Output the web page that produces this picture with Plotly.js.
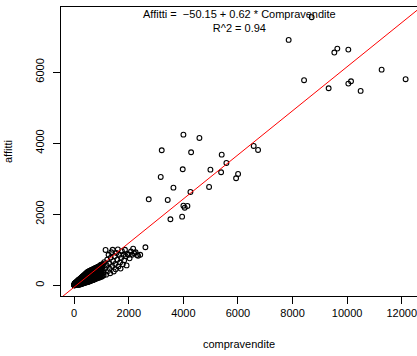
<!DOCTYPE html>
<html>
<head>
<meta charset="utf-8">
<script src="https://cdn.plot.ly/plotly-3.0.1.min.js"></script>
<style>
  html, body { margin: 0; padding: 0; background: #fff; }
  #plot { width: 417px; height: 356px; }
</style>
</head>
<body>
<div id="plot"></div>
<script>
// Sales (compravendite) and rentals (affitti) per area: the dense group of small values
const compravenditeSmall = [
  3,6,9,11,14,16,19,21,24,27,29,32,34,37,39,42,44,47,49,52,54,57,59,62,64,67,69,72,74,77,79,82,84,87,89,92,94,97,99,
  102,105,107,110,113,115,118,121,124,126,129,132,135,137,140,143,146,148,151,154,157,160,163,166,169,171,174,177,180,183,186,189,192,195,198,
  202,206,209,213,217,220,224,228,231,235,239,243,246,250,254,258,262,266,270,274,278,282,286,290,294,298,
  303,308,312,317,321,326,330,335,340,344,349,353,358,362,367,371,376,380,385,390,394,399,
  404,409,414,419,424,429,434,439,444,449,454,459,464,469,474,479,484,489,494,499,
  505,511,517,523,529,535,541,547,553,559,565,571,577,583,589,595,
  602,609,616,623,630,637,644,651,658,665,672,679,686,693,
  701,709,717,725,733,741,749,757,765,773,781,789,797,
  806,815,824,833,842,851,860,869,878,887,896,
  905,915,925,935,945,955,965,975,985,995,
  4,10,13,18,23,26,31,36,41,46,51,56,61,66,71,76,81,86,91,96,
  101,106,111,116,122,127,133,138,144,149,155,161,167,173,179,185,191,196,199,188,
  204,211,218,225,232,240,248,256,264,272,280,288,296,205,245,285,260,230,
  305,315,325,336,346,357,368,378,388,398,310,333,356,379,395,342,365,388,
  406,418,430,442,455,467,480,492,410,433,452,475,497,420,460,488,
  508,520,532,544,556,568,580,592,514,538,562,586,526,574,
  606,620,634,648,662,676,690,612,640,668,696,626,
  705,720,735,750,765,780,795,712,740,768,792,728,
  810,828,846,864,882,898,820,856,874,890,
  910,930,950,970,990,920,940,960,980,998,
  2,7,12,17,22,27,32,37,43,48,
  53,58,63,68,73,78,83,88,93,98,
  103,108,113,118,123,128,133,138,143,148,
  153,158,163,168,173,178,183,188,193,198,
  203,208,213,218,223,228,233,238,243,248,
  253,258,263,268,273,278,283,288,293,298,
  302,307,312,318,323,328,333,338,343,348,
  352,357,362,367,372,377,382,387,392,397,
  402,407,412,417,422,427,432,437,442,447,
  452,457,462,467,472,477,482,487,492,497,
  503,508,513,518,524,529,534,539,544,549,
  552,557,562,567,572,577,582,587,592,597,
  603,608,613,618,624,629,634,639,644,649,
  653,658,663,668,673,678,683,688,693,698,
  703,708,713,718,723,728,733,738,743,748,
  753,758,763,768,773,778,783,788,793,798,
  803,808,813,818,823,828,833,838,843,848,
  853,858,863,868,873,878,883,888,893,898,
  903,908,913,918,923,928,933,938,943,948,
  953,958,963,968,973,978,983,988,993,998,
  60,81,99,122,139,161,178,202,219,241,258,281,299,322,338,361,379,402,418,441,459,482,498,
  526,548,577,598,626,648,677,699,727,748,776,797,827,848,877,898,927,951,
  152,198,251,303,348,402,451,497,553,598,652,698,753,797,851,902,948,1003,1042,1078
];
const affittiSmall = [
  1,4,2,7,3,10,6,14,9,4,18,12,22,7,16,27,11,20,33,15,8,26,38,19,30,12,43,24,35,17,48,29,40,21,55,33,46,14,60,
  37,25,52,66,41,30,72,47,58,20,80,44,63,35,88,53,70,28,95,60,76,40,104,55,84,32,112,66,92,48,120,74,100,38,130,
  58,86,140,70,110,45,150,95,125,62,160,82,118,52,170,100,136,72,178,112,146,60,188,90,128,160,
  75,196,110,145,88,205,125,170,68,215,140,100,185,225,118,158,82,235,135,198,105,245,
  150,210,92,255,120,178,265,140,222,100,275,165,240,125,290,190,110,252,305,150,
  215,130,320,175,270,115,335,200,290,145,350,235,170,310,125,360,
  210,280,150,372,245,185,330,140,385,265,205,345,170,400,
  240,300,160,415,275,210,360,185,430,295,235,380,200,
  445,260,320,220,460,290,395,245,475,330,270,
  490,300,420,260,510,350,290,525,380,310,
  25,40,16,32,50,22,38,58,45,62,48,70,55,75,62,82,68,90,72,95,
  100,82,110,90,118,96,125,105,135,112,142,118,150,125,158,132,165,140,88,58,
  172,148,180,120,188,135,196,145,205,155,212,165,220,100,90,115,80,75,
  228,175,236,190,245,200,255,210,262,220,140,150,160,170,130,110,95,90,
  270,230,280,240,290,250,300,262,180,195,205,215,225,135,145,160,
  310,275,300,255,318,280,330,290,190,160,210,180,230,250,
  340,300,350,315,360,320,365,230,260,235,280,195,
  385,335,395,345,405,350,410,265,290,255,310,225,
  420,370,430,360,440,380,300,330,300,420,
  460,380,470,400,480,340,330,440,350,430,
  12,30,20,45,3,35,50,25,5,40,
  65,42,18,58,80,33,70,50,85,26,
  90,62,18,105,75,45,100,60,115,82,
  22,130,88,50,140,100,70,150,110,30,
  160,118,80,35,170,130,90,182,60,140,
  190,115,40,200,150,95,210,130,55,230,
  180,120,240,60,160,250,100,200,258,135,
  70,240,175,268,112,220,78,275,160,200,
  285,120,240,80,200,295,150,260,90,300,
  180,230,85,310,140,270,200,95,320,250,
  120,330,260,100,300,200,340,140,280,230,
  110,345,190,300,155,255,355,215,140,320,
  180,360,250,130,300,220,375,165,280,230,
  390,180,300,150,250,375,210,320,160,270,
  400,200,340,260,180,390,230,320,175,280,
  420,250,350,200,300,440,270,210,360,250,
  460,230,360,290,210,430,320,260,400,240,
  470,280,360,230,440,300,250,400,490,320,
  260,420,500,320,280,460,370,300,530,400,
  270,460,540,330,440,300,500,360,420,550,
  70,90,97,118,125,146,150,174,180,203,208,230,236,258,262,286,290,314,318,342,347,370,376,
  392,395,411,414,430,431,448,450,467,469,485,488,504,506,522,524,541,552,
  6,14,32,44,60,70,88,98,116,126,145,152,172,181,200,209,228,238,262,284
];

// Mid-sized values
const compravenditeMid = [
  1000,1030,1060,980,
  1020,1050,1080,1100,1130,1150,1170,1190,1210,1240,1260,1280,1300,1320,1340,1360,1390,1410,1430,1450,
  1480,1500,1520,1550,1580,1600,1620,1650,1680,1700,1720,1750,1780,1800,1830,1860,1890,1920,1950,1990,
  2030,2080,2120,2160,2200,2250,2300,2340,2420,2610
];
const affittiMid = [
  560,500,600,580,
  580,420,350,650,480,995,300,560,720,400,860,620,470,340,780,930,540,1000,680,390,
  820,600,450,910,720,1010,530,860,640,470,770,960,590,860,700,1000,820,560,880,860,
  760,950,860,1030,900,930,850,830,860,1070
];

// Large values
const compravenditeLarge = [
  8700,7858,9641,9531,10044,11264,8422,12143,9323,10143,10044,10495,
  4002,4588,3208,4284,5405,5577,3977,4991,5383,6005,5932,3171,3636,4943,4259,2732,3427,4002,4149,4050,3526,3955,6577,6737
];
const affittiLarge = [
  7543,6904,6659,6549,6631,6068,5770,5798,5544,5741,5675,5469,
  4239,4146,3800,3743,3676,3442,3265,3254,3180,3133,3012,3048,2747,2767,2626,2420,2401,2240,2232,2184,1858,1931,3921,3808
];

// Fitted linear model: affitti = intercept + slope * compravendite
const intercept = -50.15;
const slope = 0.62;
const rSquared = 0.94;

const compravendite = compravenditeSmall.concat(compravenditeMid, compravenditeLarge);
const affitti = affittiSmall.concat(affittiMid, affittiLarge);

const xRange = [-483, 12560];
const yRange = [-301, 7830];
const lineX = xRange.slice();
const lineY = lineX.map(v => intercept + slope * v);

const fontFamily = '"Liberation Sans", Arial, Helvetica, sans-serif';

const traces = [
  {
    type: 'scatter', mode: 'markers',
    x: compravendite, y: affitti,
    marker: { symbol: 'circle-open', size: 4.8, color: '#000', line: { width: 1.1, color: '#000' } },
    hoverinfo: 'skip'
  },
  {
    type: 'scatter', mode: 'lines',
    x: lineX, y: lineY,
    line: { color: '#ff0000', width: 1 },
    hoverinfo: 'skip'
  }
];

const layout = {
  width: 417, height: 356,
  margin: { l: 61, r: 0, t: 7, b: 60 },
  paper_bgcolor: '#fff', plot_bgcolor: '#fff',
  showlegend: false,
  font: { family: fontFamily, size: 11, color: '#000' },
  xaxis: {
    range: xRange, autorange: false,
    tickvals: [0, 2000, 4000, 6000, 8000, 10000, 12000],
    ticktext: ['0', '2000', '4000', '6000', '8000', '10000', '12000'],
    ticklabeloverflow: 'allow',
    ticks: 'outside', ticklen: 7, tickwidth: 1, tickcolor: '#000',
    showline: true, linecolor: '#000', linewidth: 1, mirror: true,
    showgrid: false, zeroline: false,
    tickfont: { family: fontFamily, size: 11, color: '#000' },
    title: { text: 'compravendite', font: { family: fontFamily, size: 11, color: '#000' }, standoff: 22 }
  },
  yaxis: {
    range: yRange, autorange: false,
    tickvals: [0, 2000, 4000, 6000],
    ticktext: ['0', '2000', '4000', '6000'],
    tickangle: -90,
    ticklabelstandoff: 5,
    ticks: 'outside', ticklen: 7, tickwidth: 1, tickcolor: '#000',
    showline: true, linecolor: '#000', linewidth: 1, mirror: true,
    showgrid: false, zeroline: false,
    tickfont: { family: fontFamily, size: 11, color: '#000' },
    title: { text: 'affitti', font: { family: fontFamily, size: 11, color: '#000' }, standoff: 18 }
  },
  annotations: [
    {
      xref: 'paper', yref: 'paper', x: 0.5, y: 0.9505,
      xanchor: 'center', yanchor: 'middle', showarrow: false,
      text: 'Affitti = \u00a0\u221250.15 + ' + slope.toFixed(2) + ' * Compravendite<br>R^2 = ' + rSquared.toFixed(2),
      font: { family: fontFamily, size: 11, color: '#000' }
    }
  ]
};

Plotly.newPlot('plot', traces, layout, { staticPlot: true, displayModeBar: false });
</script>
</body>
</html>
